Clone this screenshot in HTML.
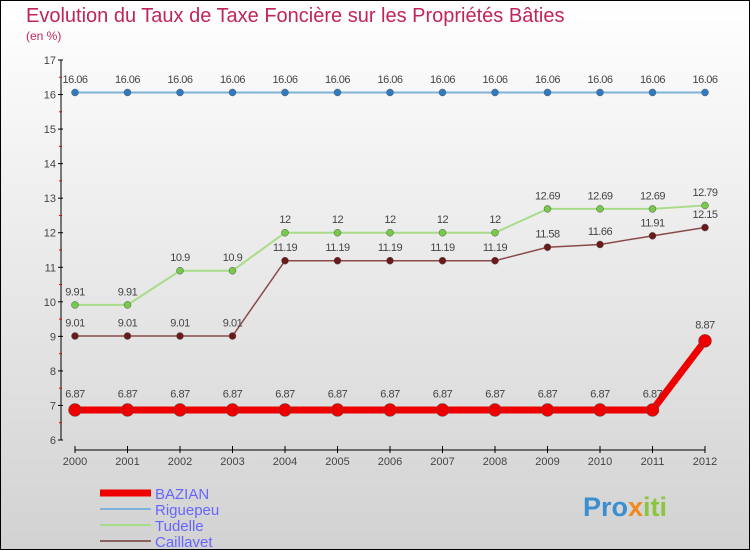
<!DOCTYPE html>
<html><head><meta charset="utf-8"><style>
body{margin:0}
#c{width:750px;height:550px;position:relative;overflow:hidden;font-family:"Liberation Sans",sans-serif}
</style></head><body>
<div id="c">
<svg id="s" width="750" height="550" xmlns="http://www.w3.org/2000/svg">
<defs><linearGradient id="bg" x1="0" y1="0" x2="0" y2="1"><stop offset="0" stop-color="#ffffff"/><stop offset="1" stop-color="#d2d2d2"/></linearGradient></defs>
<rect x="0.5" y="0.5" width="749" height="549" fill="url(#bg)" stroke="#000"/>
<text x="26" y="22" font-size="20" fill="#c0245c">Evolution du Taux de Taxe Foncière sur les Propriétés Bâties</text>
<text x="26" y="40" font-size="12" fill="#c0245c">(en %)</text>
<g id="axes"></g><g id="series"></g><g id="legend"></g>
<text x="583" y="516" font-size="27" font-weight="bold" fill="#3a8fd0">Pro<tspan fill="#f08a1c">x</tspan><tspan fill="#8cc63f">iti</tspan></text>
</svg>
</div>
<script>
const years=["2000","2001","2002","2003","2004","2005","2006","2007","2008","2009","2010","2011","2012"];
const yTicks=[6,7,8,9,10,11,12,13,14,15,16,17];
const bazian=[6.87,6.87,6.87,6.87,6.87,6.87,6.87,6.87,6.87,6.87,6.87,6.87,8.87];
const riguepeu=[16.06,16.06,16.06,16.06,16.06,16.06,16.06,16.06,16.06,16.06,16.06,16.06,16.06];
const tudelle=[9.91,9.91,10.9,10.9,12,12,12,12,12,12.69,12.69,12.69,12.79];
const caillavet=[9.01,9.01,9.01,9.01,11.19,11.19,11.19,11.19,11.19,11.58,11.66,11.91,12.15];
const NS="http://www.w3.org/2000/svg";
const x=i=>75+i*52.5;
const y=v=>60+(17-v)*(380/11);
function mk(p,t,a){const e=document.createElementNS(NS,t);for(const k in a)e.setAttribute(k,a[k]);p.appendChild(e);return e;}
const ax=document.getElementById('axes');
let l=mk(ax,'line',{x1:61,y1:60,x2:61,y2:440,stroke:'#000'});


l=mk(ax,'line',{x1:75,y1:450,x2:705,y2:450,stroke:'#000'});


yTicks.forEach(v=>{
 mk(ax,'line',{x1:58,y1:y(v),x2:63,y2:y(v),stroke:'#000'});
 if(v<17)mk(ax,'line',{x1:59,y1:y(v+0.5),x2:62,y2:y(v+0.5),stroke:'#e00'});
 const t=mk(ax,'text',{x:56,y:y(v)+4,'font-size':11,'text-anchor':'end',fill:'#444'});
 t.textContent=v;
 
 
});
years.forEach((yr,i)=>{
 mk(ax,'line',{x1:x(i),y1:446,x2:x(i),y2:453,stroke:'#000'});
 const t=mk(ax,'text',{x:x(i),y:465,'font-size':11,'text-anchor':'middle',fill:'#444'});
 t.textContent=yr;
 
 
});
const sg=document.getElementById('series');
function draw(name,data,color,dot,w,r){
 const g=mk(sg,'g',{});
 
 
 mk(g,'polyline',{points:data.map((v,i)=>x(i)+','+y(v)).join(' '),fill:'none',stroke:color,'stroke-width':w});
 data.forEach((v,i)=>{
  const c=mk(g,'circle',{cx:x(i),cy:y(v),r:r,fill:dot,stroke:'#555','stroke-width':0.5});
  
  
  const t=mk(g,'text',{x:x(i),y:y(v)-r-6,'font-size':11,'text-anchor':'middle',fill:'#444','letter-spacing':'-0.5'});
  t.textContent=v;
  
  
 });
}
draw('riguepeu',riguepeu,'#7fb2d8','#2e7bbf',2,3.5);
draw('tudelle',tudelle,'#a8dc88','#77c94a',2,3.5);
draw('caillavet',caillavet,'#8a4a4a','#6a1a1a',1.5,3.5);
draw('bazian',bazian,'#ee0000','#ee0000',7,6.5);
const lg=document.getElementById('legend');
const items=[["BAZIAN","#ee0000",7],["Riguepeu","#7fb2d8",2],["Tudelle","#a8dc88",2],["Caillavet","#8a6060",2]];
items.forEach((it,i)=>{
 const yy=493+i*16;
 const g=mk(lg,'g',{});
 
 
 mk(g,'line',{x1:100,y1:yy,x2:151,y2:yy,stroke:it[1],'stroke-width':it[2]});
 const t=mk(g,'text',{x:155,y:yy+6,'font-size':15,fill:'#6666ff'});
 t.textContent=it[0];
});
</script>
</body></html>
